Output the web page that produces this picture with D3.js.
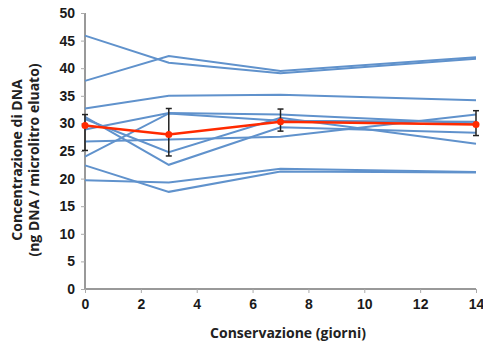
<!DOCTYPE html>
<html lang="en">
<head>
    <meta charset="UTF-8">
    <title>Concentrazione di DNA</title>
    <script src="https://d3js.org/d3.v7.min.js"></script>
    <style>
        body { margin: 0; background: #fff; }
        .axis-title { font-family: "Open Sans", sans-serif; font-weight: bold; font-size: 14px; fill: #222; }
        .tick text { font-family: "Liberation Sans", Arial, sans-serif; font-weight: 700; font-size: 14px; fill: #1a1a1a; }
    </style>
</head>
<body>
    <svg width="483" height="342"></svg>
    <script>
        // days of storage
        const days = [0, 3, 7, 14];

        // individual samples (ng DNA / microlitro)
        const samples = [
            [45.9, 41.0, 39.1, 41.7],
            [37.7, 42.2, 39.5, 42.0],
            [32.7, 35.0, 35.2, 34.2],
            [31.2, 22.5, 29.3, 28.3],
            [30.8, 24.8, 31.0, 26.3],
            [28.9, 31.9, 31.6, 30.0],
            [26.7, 27.1, 27.6, 31.6],
            [24.0, 31.8, 30.5, 30.3],
            [22.4, 17.6, 21.3, 21.1],
            [19.7, 19.3, 21.8, 21.2]
        ];

        // mean and error bar ends
        const mean = [29.6, 28.0, 30.3, 29.8];
        const errHigh = [31.6, 32.7, 32.6, 32.3];
        const errLow = [25.1, 24.1, 28.6, 27.8];

        const xTicks = [0, 2, 4, 6, 8, 10, 12, 14];
        const yTicks = [0, 5, 10, 15, 20, 25, 30, 35, 40, 45, 50];

        const svg = d3.select("svg");
        const x = d3.scaleLinear().domain([0, 14]).range([85, 476]);
        const y = d3.scaleLinear().domain([0, 50]).range([289, 13]);

        // axes
        const yAxis = svg.append("g")
            .attr("transform", "translate(85,0)")
            .call(d3.axisLeft(y).tickValues(yTicks).tickSize(4).tickPadding(6));
        const xAxis = svg.append("g")
            .attr("transform", "translate(0,289)")
            .call(d3.axisBottom(x).tickValues(xTicks).tickSize(4).tickPadding(6));
        [xAxis, yAxis].forEach(a => {
            a.select(".domain").attr("stroke", "#999").attr("stroke-width", 2);
            a.selectAll(".tick line").attr("stroke", "#aaa");
        });
        yAxis.select(".domain").attr("d", "M0,13V289");
        xAxis.select(".domain").attr("d", "M85,0H476");

        const line = d3.line()
            .x((d, i) => x(days[i]))
            .y(d => y(d));

        // blue sample lines
        svg.append("g")
            .selectAll("path")
            .data(samples)
            .enter().append("path")
            .attr("d", line)
            .attr("fill", "none")
            .attr("stroke", "#6092cc")
            .attr("stroke-width", 2);

        // error bars
        const eb = svg.append("g").attr("stroke", "#222").attr("stroke-width", 1.5);
        days.forEach((d, i) => {
            eb.append("line").attr("x1", x(d)).attr("x2", x(d))
                .attr("y1", y(errHigh[i])).attr("y2", y(errLow[i]));
            [errHigh[i], errLow[i]].forEach(v => {
                eb.append("line").attr("x1", x(d) - 3).attr("x2", x(d) + 3)
                    .attr("y1", y(v)).attr("y2", y(v));
            });
        });

        // mean line
        svg.append("path")
            .datum(mean)
            .attr("d", line)
            .attr("fill", "none")
            .attr("stroke", "#ff2a00")
            .attr("stroke-width", 2.5);
        svg.append("g")
            .selectAll("circle")
            .data(mean)
            .enter().append("circle")
            .attr("cx", (d, i) => x(days[i]))
            .attr("cy", d => y(d))
            .attr("r", 3.5)
            .attr("fill", "#ff2a00");

        // titles
        svg.append("text")
            .attr("class", "axis-title")
            .attr("x", 288).attr("y", 338)
            .attr("text-anchor", "middle")
            .text("Conservazione (giorni)");
        const yt = svg.append("text")
            .attr("class", "axis-title")
            .attr("transform", "translate(0,160) rotate(-90)")
            .attr("text-anchor", "middle");
        yt.append("tspan").attr("x", 0).attr("y", 22).text("Concentrazione di DNA");
        yt.append("tspan").attr("x", 0).attr("y", 39).text("(ng DNA / microlitro eluato)");
    </script>
</body>
</html>
